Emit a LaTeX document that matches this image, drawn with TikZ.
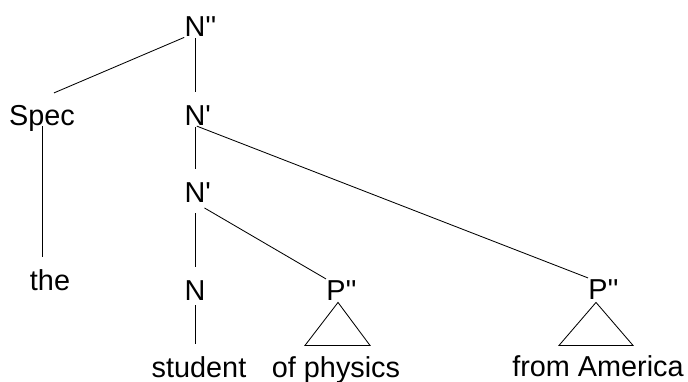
\documentclass[tikz,border=0pt]{standalone}
\usepackage{fontspec}
\newfontfamily\treefont{Liberation Sans}
\usetikzlibrary{calc}
\begin{document}
\begin{tikzpicture}[x=0.025cm, y=-0.025cm, line width=0.6pt,
    cat/.style={inner sep=0pt, anchor=base, text height=14.7pt, text depth=0pt,
      font=\treefont\fontsize{20.5}{24}\selectfont},
    branch/.style={shorten <=0.7pt, shorten >=8.5pt}]
  \useasboundingbox (0,0) rectangle (688,381);

  \node[cat] (npp) at (195,37) {N\rlap{''}};
  \node[cat] (spec) at (42,125) {Spec};
  \node[cat] (nbar1) at (195,125) {N\rlap{'}};
  \node[cat] (nbar2) at (195,202) {N\rlap{'}};
  \node[cat] (the) at (50,290) {the};
  \node[cat] (n) at (195,300) {N};
  \node[cat] (pp1) at (336,300) {P\rlap{''}};
  \node[cat] (pp2) at (598,299) {P\rlap{''}};
  \node[cat] (student) at (199,377) {student};
  \node[cat] (physics) at (336,377) {of physics};
  \node[cat] (america) at (598,376) {from America};

  \draw[branch] (npp.south) -- (nbar1.north);
  \draw (npp.south west) -- ($(spec.north)+(12,-11)$);
  \draw[branch] (spec.south) -- (spec.south |- the.north);
  \draw[branch, shorten <=1.4pt] (nbar1.south) -- (nbar2.north);
  \draw[shorten <=1.4pt] (nbar1.south) -- (pp2.north west);
  \draw[branch, shorten <=7.8pt] (nbar2.south) -- (n.north);
  \draw[shorten <=7.8pt] (nbar2.south) -- (pp1.north west);
  \draw[branch, shorten <=3.5pt] (n.south) -- (n.south |- student.north);

  % triangles over the unanalysed phrases
  \draw ($(pp1.south)+(2,2)$) -- ++(-33,43) -- ++(65,0) -- cycle;
  \draw ($(pp2.south)+(-2,3)$) -- ++(-37,43) -- ++(74,0) -- cycle;
\end{tikzpicture}
\end{document}
